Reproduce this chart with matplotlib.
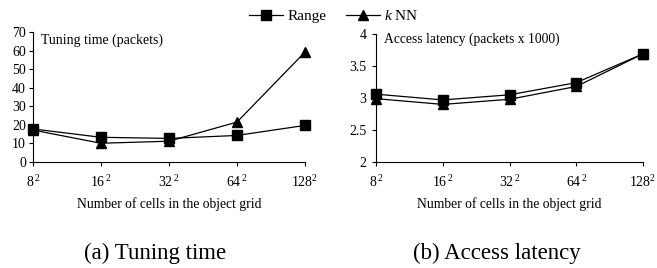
import matplotlib
matplotlib.use("Agg")
import matplotlib.pyplot as plt

plt.rcParams["font.family"] = ["Liberation Serif", "DejaVu Serif"]
plt.rcParams["mathtext.fontset"] = "custom"
plt.rcParams["mathtext.rm"] = "Liberation Serif"
plt.rcParams["mathtext.it"] = "Liberation Serif:italic"

# ---------- Data ----------
grid_labels = ["$8^{\\,2}$", "$16^{\\,2}$", "$32^{\\,2}$", "$64^{\\,2}$", "$128^{2}$"]

tuning_range = [17.8, 13.3, 12.7, 14.3, 19.7]
tuning_knn = [17.2, 10.1, 11.2, 21.5, 59.2]

latency_range = [3.06, 2.97, 3.05, 3.24, 3.69]
latency_knn = [2.99, 2.90, 2.98, 3.18, 3.69]

# ---------- Figure ----------
fig = plt.figure(figsize=(6.57, 2.68), dpi=100)
ax1 = fig.add_axes([0.0502, 0.3955, 0.414, 0.4851])
ax2 = fig.add_axes([0.5723, 0.3955, 0.4064, 0.4776])

x = list(range(len(grid_labels)))


def style_axis(ax):
    ax.spines["top"].set_visible(False)
    ax.spines["right"].set_visible(False)
    ax.spines["left"].set_linewidth(0.8)
    ax.spines["bottom"].set_linewidth(0.8)
    ax.tick_params(direction="out", length=3, width=0.8, labelsize=10, pad=2)
    ax.tick_params(axis="x", pad=6)
    ax.set_xlim(0, len(grid_labels) - 1)
    ax.set_xticks(x)
    ax.set_xticklabels(grid_labels)
    ax.set_xlabel("Number of cells in the object grid", fontsize=9.8, labelpad=5)


# (a) Tuning time
l1, = ax1.plot(x, tuning_range, color="black", lw=0.9, marker="s", ms=6.5,
               clip_on=False, label="Range")
l2, = ax1.plot(x, tuning_knn, color="black", lw=0.9, marker="^", ms=6.5,
               clip_on=False, label="$\\mathit{k}$ NN")
style_axis(ax1)
ax1.set_ylim(0, 70)
ax1.set_yticks(range(0, 71, 10))
ax1.text(0.03, 0.99, "Tuning time (packets)", transform=ax1.transAxes,
         fontsize=10, va="top", ha="left")

# (b) Access latency
ax2.plot(x, latency_range, color="black", lw=0.9, marker="s", ms=6.5, clip_on=False)
ax2.plot(x, latency_knn, color="black", lw=0.9, marker="^", ms=6.5, clip_on=False)
style_axis(ax2)
ax2.tick_params(axis="y", pad=4)
ax2.set_ylim(2, 4)
ax2.set_yticks([2, 2.5, 3, 3.5, 4])
ax2.set_yticklabels(["2", "2.5", "3", "3.5", "4"])
ax2.text(0.03, 1.01, "Access latency (packets x 1000)", transform=ax2.transAxes,
         fontsize=9.8, va="top", ha="left")

# legend + captions
fig.legend(handles=[l1, l2], loc="center", bbox_to_anchor=(0.508, 0.94), ncol=2,
           frameon=False, fontsize=11, handlelength=2.2, handletextpad=0.3,
           columnspacing=1.3, borderaxespad=0)

fig.text(0.236, 0.056, "(a) Tuning time", fontsize=16.5, ha="center", va="center")
fig.text(0.757, 0.056, "(b) Access latency", fontsize=16.5, ha="center", va="center")

fig.savefig("out.png", dpi=100)
